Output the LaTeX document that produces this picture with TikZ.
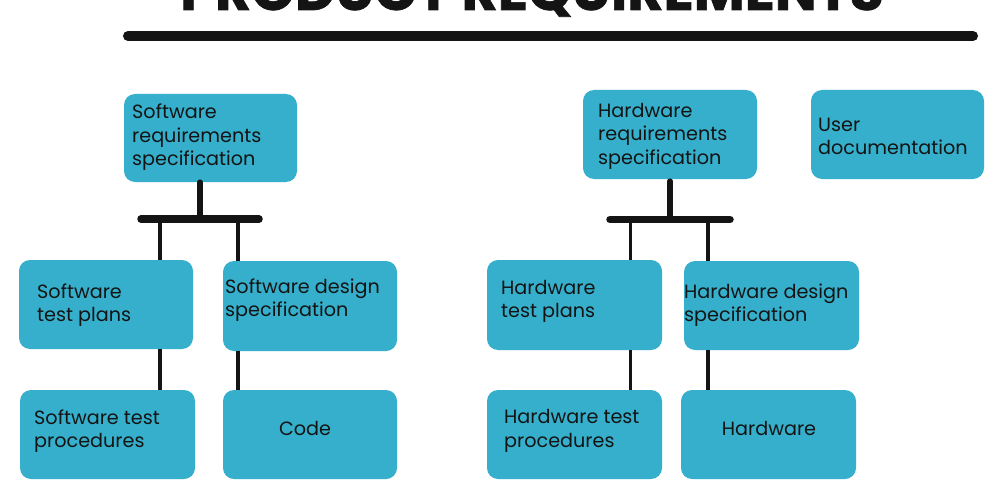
\documentclass[tikz,border=0pt]{standalone}
\usepackage{fontspec}
\setmainfont{Poppins}
\newfontfamily\titlefam[BoldFeatures={FakeBold=1.2}]{Poppins}
\definecolor{tealbox}{HTML}{35AFCB}
\definecolor{ink}{HTML}{141414}
\begin{document}
\begin{tikzpicture}[x=1pt,y=-1pt,
  box/.style={fill=tealbox, draw=none, rounded corners=11pt, inner sep=0pt},
  txt/.style={font=\fontsize{19.2}{23.5}\selectfont, text=ink, align=left, inner sep=0pt},
  stem/.style={draw=ink, line width=5.5pt, line cap=round},
  bar/.style={draw=ink, line width=7.5pt, line cap=round},
  drop/.style={draw=ink, line width=3.5pt},
  titlefont/.style={font=\titlefam\fontsize{55.6}{55.6}\selectfont\bfseries, text=ink, inner sep=0pt}]
\useasboundingbox (0,0) rectangle (1000,500);
\clip (0,0) rectangle (1000,500);
\fill[white] (0,0) rectangle (1000,500);

% title and rule
\node[titlefont, anchor=base] (title) at (532,10) {PRODUCT REQUIREMENTS};
\coordinate (rl) at (128,36);
\coordinate (rr) at (973,36);
\draw[line width=10pt, line cap=round, ink] (rl) -- (rr);

% boxes
\node[box, minimum width=173pt, minimum height=88pt] (srs) at (210.5,138) {};
\node[box, minimum width=174pt, minimum height=89pt] (stp) at (106,304.5) {};
\node[box, minimum width=174pt, minimum height=90pt] (sds) at (310,306) {};
\node[box, minimum width=175pt, minimum height=89pt] (stpr) at (107.5,434.5) {};
\node[box, minimum width=174pt, minimum height=89pt] (code) at (310,434.5) {};
\node[box, minimum width=174pt, minimum height=89pt] (hrs) at (670,134.5) {};
\node[box, minimum width=173pt, minimum height=89pt] (ud) at (897.5,134.5) {};
\node[box, minimum width=175pt, minimum height=90pt] (htp) at (574.5,305) {};
\node[box, minimum width=175pt, minimum height=89pt] (hds) at (771.5,305.5) {};
\node[box, minimum width=175pt, minimum height=89pt] (htpr) at (574.5,434.5) {};
\node[box, minimum width=175pt, minimum height=89pt] (hw) at (768.5,434.5) {};

% labels
\node[txt, anchor=west] (tsrs) at (132,137.5) {Software\\requirements\\specification};
\node[txt, anchor=west] (tstp) at (37,305) {Software\\test plans};
\node[txt, anchor=west] (tsds) at (225,300) {Software design\\specification};
\node[txt, anchor=west] (tstpr) at (34,431) {Software test\\procedures};
\node[txt] (tcode) at (305,428) {Code};
\node[txt, anchor=west] (thrs) at (598,136) {Hardware\\requirements\\specification};
\node[txt, anchor=west] (tud) at (818,136.5) {User\\documentation};
\node[txt, anchor=west] (thtp) at (501,301.5) {Hardware\\test plans};
\node[txt, anchor=west] (thds) at (684,305) {Hardware design\\specification};
\node[txt, anchor=west] (thtpr) at (504,431) {Hardware test\\procedures};
\node[txt] (thw) at (769,428) {Hardware};

% left tree
\coordinate (sstem) at (200,219);
\coordinate (sbl) at (141,219);
\coordinate (sbr) at (259,219);
\coordinate (sd1) at (160,219);
\coordinate (sd2) at (238,219);
\draw[stem] (sstem |- srs.south) -- (sstem);
\draw[bar] (sbl) -- (sbr);
\draw[drop] (sd1) -- (sd1 |- stp.north);
\draw[drop] (sd2) -- (sd2 |- sds.north);
\draw[drop] (sd1 |- stp.south) -- (sd1 |- stpr.north);
\draw[drop, line width=4pt] (sd2 |- sds.south) -- (sd2 |- code.north);

% right tree
\coordinate (hstem) at (670,219.5);
\coordinate (hbl) at (610,219.5);
\coordinate (hbr) at (730,219.5);
\coordinate (hd1) at (630.5,219.5);
\coordinate (hd2) at (708,219.5);
\draw[stem] ([yshift=-2pt]hstem |- hrs.south) -- (hstem);
\draw[bar] (hbl) -- (hbr);
\draw[drop] (hd1) -- (hd1 |- htp.north);
\draw[drop] (hd2) -- (hd2 |- hds.north);
\draw[drop] (hd1 |- htp.south) -- (hd1 |- htpr.north);
\draw[drop, line width=4pt] (hd2 |- hds.south) -- (hd2 |- hw.north);
\end{tikzpicture}
\end{document}
